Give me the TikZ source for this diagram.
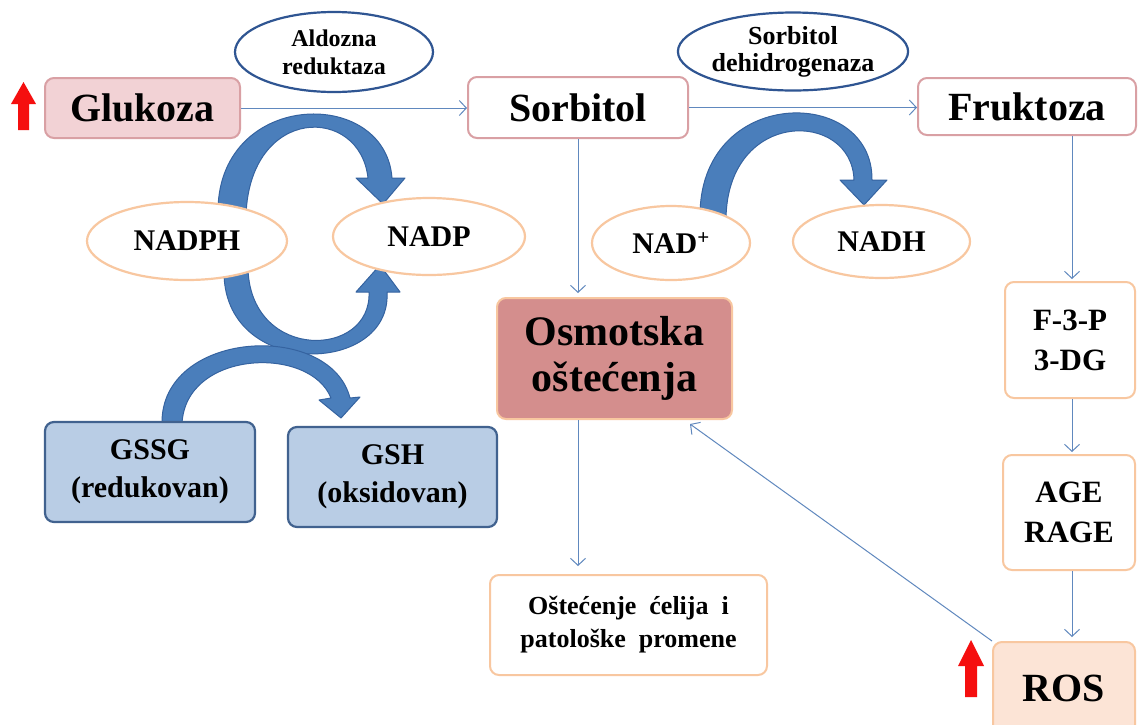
\documentclass[tikz,border=0pt]{standalone}
\usepackage{fontspec}
\setmainfont{Liberation Serif}
\usetikzlibrary{arrows.meta,shapes.geometric}
\definecolor{bandfill}{HTML}{4A7EBB}
\definecolor{bandedge}{HTML}{3563A0}
\definecolor{conn}{HTML}{6088BE}
\definecolor{pinkedge}{HTML}{D9A0A4}
\definecolor{pinkfill}{HTML}{F2D2D5}
\definecolor{orangeedge}{HTML}{F8C7A0}
\definecolor{osmofill}{HTML}{D48E8D}
\definecolor{rosfill}{HTML}{FCE4D6}
\definecolor{gfill}{HTML}{B9CDE5}
\definecolor{gedge}{HTML}{41628F}
\definecolor{enzedge}{HTML}{2F5592}
\definecolor{upred}{HTML}{F50F0F}
\newcommand{\fs}[2]{\fontsize{#1}{#2}\selectfont\bfseries}
\begin{document}
\begin{tikzpicture}[x=1pt,y=-1pt,
  box/.style={rounded corners=9pt, line width=2pt, align=center, inner sep=0pt},
  pinkbox/.style={box, draw=pinkedge, fill=white},
  orbox/.style={box, draw=orangeedge, fill=white},
  gbox/.style={box, draw=gedge, fill=gfill, line width=2.2pt},
  enz/.style={ellipse, draw=enzedge, fill=white, line width=2.2pt, inner sep=0pt, align=center},
  cof/.style={ellipse, draw=orangeedge, fill=white, line width=2.2pt, inner sep=0pt, align=center, font=\fs{30}{34}},
  conn/.style={draw=conn, line width=1pt, -{Straight Barb[length=7pt,width=15pt,line width=1pt]}},
  band/.style={fill=bandfill, draw=bandedge, line width=1pt, line join=round},
  redarrow/.style={fill=upred, draw=none}]
\useasboundingbox (0,0) rectangle (1138,724);
\fill[white] (0,0) rectangle (1138,724);

% thick curved arrows (drawn first, ellipses cover their ends)
\path[band] (218,215) .. controls (215,90) and (385,85) .. (392,178) -- (405,178) -- (383,204) -- (356,178) -- (368,178) .. controls (360,105) and (250,105) .. (246,215) -- cycle;
\path[band] (224,270) .. controls (222,380) and (392,376) .. (387,292) -- (400,292) -- (380,265) -- (356,292) -- (369,292) .. controls (372,358) and (252,362) .. (248,270) -- cycle;
\path[band] (162,424) .. controls (160,330) and (330,320) .. (350,398) -- (360,397) -- (341,418) -- (319,400) -- (331,398) .. controls (310,345) and (185,350) .. (182,424) -- cycle;
\path[band] (700,218) .. controls (698,85) and (873,85) .. (872,180) -- (887,180) -- (864,205) -- (840,180) -- (854,180) .. controls (852,110) and (728,108) .. (726,218) -- cycle;

% main boxes
\node[box, draw=pinkedge, fill=pinkfill, minimum width=195, minimum height=60, font=\fs{40}{44}] (gluk) at (142.5,108) {Glukoza};
\node[pinkbox, minimum width=220, minimum height=61, font=\fs{40}{44}] (sorb) at (578,107.5) {Sorbitol};
\node[pinkbox, minimum width=218, minimum height=57, font=\fs{40}{44}] (fruk) at (1027,106.5) {Fruktoza};
\node[box, draw=orangeedge, fill=osmofill, minimum width=235, minimum height=121, font=\fs{42}{46}] (osmo) at (614.5,358.5) {Osmotska\\oštećenja};
\node[orbox, minimum width=277, minimum height=100, font=\fs{26}{33}] (ostec) at (628.5,625) {Oštećenje \ ćelija \ i\\patološke \ promene};
\node[orbox, minimum width=130, minimum height=116, font=\fs{31}{40}] (f3p) at (1070,340) {F-3-P\\3-DG};
\node[orbox, minimum width=132, minimum height=115, font=\fs{31}{40}] (age) at (1069,512.5) {AGE\\RAGE};
\node[box, draw=orangeedge, fill=rosfill, minimum width=142, minimum height=92, font=\fs{40}{44}] (ros) at (1064,688) {ROS};
\node[gbox, minimum width=210, minimum height=100, font=\fs{30}{38}] (gssg) at (150,472) {GSSG\\(redukovan)};
\node[gbox, minimum width=209, minimum height=100, font=\fs{30}{38}] (gsh) at (392.5,477) {GSH\\(oksidovan)};

% enzymes
\node[enz, minimum width=198, minimum height=80, font=\fs{24}{28}] (ald) at (334,52) {Aldozna\\reduktaza};
\node[enz, minimum width=205, minimum height=78, font=\fs{26}{27}] (sdh) at (793,51.5) {Sorbitol\\dehidrogenaza};

% cofactors
\node[cof, minimum width=200, minimum height=78] (nadph) at (187,241) {NADPH};
\node[cof, minimum width=192, minimum height=77] (nadp) at (429,236.5) {NADP};
\node[cof, minimum width=158, minimum height=74] (nad) at (671,243) {NAD\textsuperscript{+}};
\node[cof, minimum width=177, minimum height=73] (nadh) at (881.5,241.5) {NADH};

% thin connectors
\coordinate (fx) at (1072,0);
\coordinate (osmotip) at (690,424);
\draw[conn] (gluk.east) -- (sorb.west |- gluk.east);
\draw[conn] (sorb.east) -- (fruk.west |- sorb.east);
\draw[conn, shorten >=4pt] (sorb.south) -- (osmo.north -| sorb.south);
\draw[conn, shorten >=8pt] (osmo.south -| sorb.south) -- (ostec.north -| sorb.south);
\draw[conn, shorten >=2pt] (fruk.south -| fx) -- (f3p.north -| fx);
\draw[conn, shorten >=2pt] (f3p.south -| fx) -- (age.north -| fx);
\draw[conn, shorten >=4pt] (age.south -| fx) -- (ros.north -| fx);
\draw[conn] (ros.north west) -- (osmotip);

% red up arrows
\path[redarrow] (18,130) -- (18,104) -- (11,104) -- (23.5,82) -- (36,104) -- (29,104) -- (29,130) -- cycle;
\path[redarrow] (965,697) -- (965,666) -- (958,666) -- (971,640) -- (984,666) -- (977,666) -- (977,697) -- cycle;
\end{tikzpicture}
\end{document}
